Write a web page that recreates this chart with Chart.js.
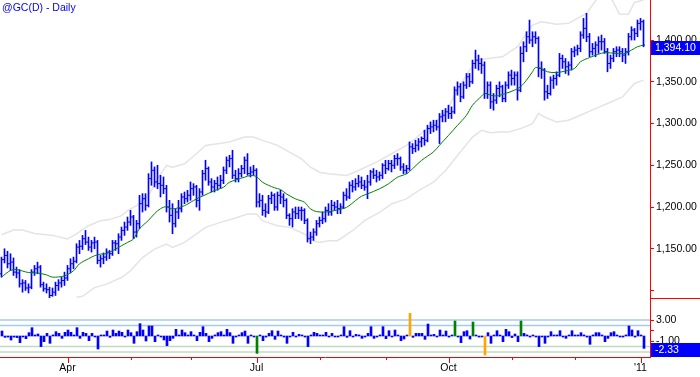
<!DOCTYPE html>
<html>
<head>
<meta charset="utf-8">
<script src="https://cdn.jsdelivr.net/npm/chart.js@4.4.1/dist/chart.umd.min.js"></script>
<style>
  html, body { margin: 0; padding: 0; background: #fff; }
  #caja { width: 700px; height: 377px; }
</style>
</head>
<body>
<div id="caja"><canvas id="grafico"></canvas></div>
<script>
// @GC(D) daily bars, 2 Mar 2010 .. 4 Jan 2011 (bar index 1..215)
const openP = [
  1120,1137,1142,1132,1134,1122,1121,1108,1109,1103,1104,1122,1126,1128,1107,1102,1101,1094,1098,1106,1109,1112,
  1115,1126,1132,1135,1152,1153,1162,1158,1152,1157,1158,1136,1138,1140,1146,1144,1157,1156,1164,1172,1176,
  1182,1188,1170,1180,1204,1210,1202,1234,1244,1230,1228,1226,1222,1200,1190,1180,1194,1198,1212,1210,
  1214,1222,1224,1208,1218,1240,1246,1230,1224,1228,1226,1232,1244,1256,1258,1238,1234,1240,1246,1256,1240,1242,
  1244,1206,1208,1196,1194,1210,1214,1200,1214,1212,1208,1190,1186,1194,1192,1196,1196,1184,1162,1164,1170,
  1180,1184,1186,1196,1194,1202,1200,1198,1200,1214,1212,1226,1224,1228,1230,1226,1224,1230,1242,1238,1236,1238,
  1250,1246,1252,1250,1258,1258,1248,1244,1246,1272,1270,1274,1278,1282,1280,1294,1296,1298,1296,1308,1310,
  1314,1312,1314,1340,1344,1332,1346,1356,1350,1372,1376,1372,1370,1336,1346,1326,1328,1342,1344,1330,1346,
  1358,1354,1358,1340,1384,1392,1404,1400,1404,1402,1366,1364,1338,1336,1352,1354,1358,1378,1374,1368,1370,
  1386,1388,1390,1406,1414,1404,1386,1390,1394,1398,1398,1386,1372,1378,1386,1388,1386,1382,1386,1404,1412,1408,
  1420,1422
]
const highP = [
  1140,1150,1147,1144,1139,1128,1125,1113,1112,1108,1125,1130,1134,1130,1110,1108,1104,1103,1110,1113,1116,1122,
  1130,1138,1140,1156,1160,1166,1172,1164,1160,1164,1160,1142,1145,1150,1148,1160,1160,1168,1176,1182,1188,
  1196,1190,1184,1214,1216,1216,1240,1254,1248,1250,1238,1236,1226,1208,1204,1198,1208,1216,1218,1220,
  1230,1228,1226,1222,1244,1256,1248,1234,1232,1236,1238,1248,1260,1262,1268,1244,1246,1250,1260,1264,1248,1250,
  1246,1216,1214,1204,1214,1218,1216,1218,1220,1216,1210,1192,1198,1200,1200,1200,1198,1186,1170,1174,1184,
  1188,1194,1200,1204,1208,1206,1208,1204,1218,1222,1230,1232,1234,1238,1236,1232,1238,1244,1246,1244,1242,1252,
  1256,1256,1256,1262,1264,1260,1252,1250,1278,1276,1280,1282,1284,1292,1298,1302,1304,1304,1312,1316,1318,
  1322,1320,1344,1350,1348,1350,1360,1360,1376,1388,1382,1378,1374,1350,1350,1336,1346,1350,1346,1350,1362,
  1364,1362,1362,1392,1398,1410,1424,1410,1410,1404,1374,1366,1346,1356,1358,1362,1384,1382,1378,1374,1390,
  1392,1394,1410,1426,1432,1408,1396,1398,1404,1406,1402,1390,1382,1390,1392,1392,1390,1390,1408,1416,1414,1424,
  1426,1424
]
const lowP = [
  1116,1133,1127,1124,1118,1115,1104,1098,1100,1097,1102,1118,1120,1104,1099,1097,1091,1093,1094,1100,1104,1106,
  1112,1121,1126,1133,1144,1149,1155,1148,1146,1150,1132,1128,1132,1136,1138,1142,1148,1144,1160,1166,1172,
  1178,1162,1164,1174,1194,1196,1200,1226,1224,1222,1212,1216,1194,1182,1168,1176,1186,1194,1204,1206,
  1208,1214,1200,1196,1214,1232,1226,1218,1218,1220,1222,1228,1240,1248,1234,1230,1230,1236,1240,1238,1236,1238,
  1200,1200,1190,1188,1192,1204,1196,1196,1204,1200,1186,1178,1176,1186,1186,1184,1180,1158,1156,1160,1166,
  1176,1180,1182,1190,1190,1196,1192,1192,1198,1208,1210,1218,1220,1224,1222,1220,1210,1226,1234,1230,1232,1234,
  1240,1244,1242,1246,1250,1244,1240,1240,1244,1264,1266,1268,1272,1274,1278,1288,1290,1292,1276,1302,1302,
  1306,1306,1312,1334,1326,1330,1342,1344,1348,1366,1364,1360,1330,1330,1318,1316,1324,1332,1326,1326,1342,
  1346,1346,1328,1338,1374,1386,1396,1392,1396,1356,1354,1328,1330,1334,1342,1346,1356,1366,1360,1358,1364,
  1380,1382,1386,1402,1398,1380,1382,1380,1384,1388,1384,1362,1366,1374,1380,1380,1374,1372,1382,1400,1400,1404,
  1412,1392
]
const closeP = [
  1137,1142,1132,1134,1122,1121,1108,1109,1103,1104,1122,1126,1128,1107,1102,1101,1094,1098,1106,1109,1112,1115,
  1126,1132,1135,1152,1153,1162,1158,1152,1157,1158,1136,1138,1140,1146,1144,1157,1156,1164,1172,1176,1182,
  1188,1170,1180,1204,1210,1202,1234,1244,1230,1228,1226,1222,1200,1190,1180,1194,1198,1212,1210,1214,
  1222,1224,1208,1218,1240,1246,1230,1224,1228,1226,1232,1244,1256,1258,1238,1234,1240,1246,1256,1240,1242,1244,
  1206,1208,1196,1194,1210,1214,1200,1214,1212,1208,1190,1186,1194,1192,1196,1196,1184,1162,1164,1170,1180,
  1184,1186,1196,1194,1202,1200,1198,1200,1214,1212,1226,1224,1228,1230,1226,1224,1230,1242,1238,1236,1238,1250,
  1246,1252,1250,1258,1258,1248,1244,1246,1272,1270,1274,1278,1282,1280,1294,1296,1298,1296,1308,1310,1314,
  1312,1314,1340,1344,1332,1346,1356,1350,1372,1376,1372,1370,1336,1346,1326,1328,1342,1344,1330,1346,1358,
  1354,1358,1340,1384,1392,1404,1400,1404,1402,1366,1364,1338,1336,1352,1354,1358,1378,1374,1368,1370,1386,
  1388,1390,1406,1414,1404,1386,1390,1394,1398,1398,1386,1372,1378,1386,1388,1386,1382,1386,1404,1412,1408,1420,
  1422,1394.1
]

// lower pane histogram, one value per bar
const osc = [
  0.94,-0.25,-0.2,-0.75,-0.2,-0.3,-1.26,-0.1,-0.5,0.63,1.57,0.2,0.38,-2.0,-1.07,0.5,-1.38,0.2,0.82,0.5,-0.44,0.69,
  1.13,0.69,0.1,1.57,-0.44,0.69,0.5,-0.88,0.5,-0.13,-2.45,0.1,0.1,0.94,-0.25,1.13,0.5,0.94,0.69,-0.13,1.13,
  0.63,-1.38,0.82,2.33,1.13,-0.94,1.89,1.89,-1.07,0.1,-0.1,-0.75,-1.82,-0.88,-0.44,1.26,0.1,1.13,0.63,0.1,
  0.82,0.1,-0.88,0.69,1.76,0.5,-1.07,-0.44,0.2,0.63,0.82,0.1,1.26,0.63,-1.38,-0.1,0.1,0.63,0.94,-1.38,0.1,-0.1,
  -3.27,0.1,-0.88,-0.2,0.5,1.0,-0.63,0.94,0.1,-0.2,-1.38,-0.1,0.69,-0.1,0.31,0.1,-0.2,-2.0,0.1,0.69,0.5,
  0.1,0.1,0.69,-0.13,0.5,-0.1,-0.1,0.1,1.76,-0.25,1.0,-0.1,0.31,0.2,-0.44,-0.1,0.5,1.76,-0.44,-0.1,0.2,1.76,
  -0.5,1.0,-0.1,1.13,0.1,-0.88,-0.57,0.1,4.28,-0.25,0.5,0.5,0.5,-0.63,2.26,0.1,0.31,-0.1,1.13,0.1,0.94,
  -0.2,0.1,2.83,-0.1,-1.26,0.82,1.0,-0.57,2.64,0.1,-0.2,-0.1,-3.58,0.63,-1.38,0.1,1.0,0.1,-1.07,1.26,0.82,
  -0.3,0.38,-1.07,2.83,0.5,0.2,-0.2,0.1,-0.1,-2.0,-0.1,-1.38,-0.1,0.82,0.1,0.2,1.0,-0.2,-0.44,0.1,1.0,
  0.1,0.1,0.63,0.2,-0.2,-1.57,0.2,0.63,0.63,0.1,-1.07,-0.44,0.63,0.82,0.1,-0.1,-0.2,0.2,1.89,1.13,-0.2,1.0,
  0.1,-2.33
]
const orangeIdx = [137, 162]
const greenIdx = [86, 152, 158, 174]

// average and envelope, read at these bar indices
const maIdx = [1,4,6,10,13,16,18,22,25,27,30,32,34,36,38,41,43,45,47,50,52,54,56,58,62,65,67,68,72,75,77,82,84,86,88,92,94,96,99,102,104,106,109,112,116,119,121,123,127,130,133,136,138,141,145,147,150,153,156,158,161,162,164,166,169,172,174,176,178,179,181,183,186,189,192,194,197,200,202,206,209,211,213,215]
const maVal = [1116,1124,1125,1121.5,1121,1118.7,1116,1117.5,1123.6,1132,1138,1141.6,1143.6,1144,1147.6,1153.6,1157.6,1161.7,1174,1184,1192,1198,1200.5,1197.7,1201.7,1207.7,1211.7,1213,1219.7,1223.7,1229.7,1235.7,1237.7,1236.5,1229.7,1223,1221,1215.7,1209.7,1205.7,1197.7,1194.5,1194,1195.7,1199.6,1207.7,1212.9,1215.7,1221.8,1227.8,1235.7,1239.8,1245.8,1255.8,1266,1274,1285.8,1297.8,1309.9,1322,1332.7,1336,1334,1333,1336,1340,1344,1352,1362,1367,1366,1362,1361,1363,1366,1374,1379,1383,1385,1384,1384,1388,1392,1394]
const upIdx = [1,5,8,12,16,18,23,26,30,34,37,41,43,46,50,53,56,58,62,66,69,73,77,82,85,88,93,97,101,104,107,110,116,120,126,131,136,139,142,147,150,153,157,160,163,168,173,178,181,186,190,193,196,200,204,207,210,212,215]
const upVal = [1166.8,1172.5,1172.5,1168.4,1166.8,1166,1161.7,1167.7,1177.6,1183.6,1184.9,1189.7,1195.7,1201.7,1213.7,1233.8,1249.8,1247.7,1251.8,1263.8,1273.8,1275.9,1277.8,1283.8,1283.8,1279.8,1273.8,1265.7,1257.8,1247.7,1241.7,1239.8,1237.7,1243.8,1253.7,1263.8,1273.8,1281.9,1291.8,1305.9,1319.8,1340,1364,1376,1378,1380,1392,1418,1422,1419,1420,1426,1432,1452,1452,1431,1431,1445,1448]
const loIdx = [26,28,32,36,41,44,48,52,56,58,62,66,69,74,78,83,86,88,93,97,102,105,107,110,113,118,122,127,131,136,140,145,149,153,158,161,164,167,170,174,178,180,182,186,190,194,199,203,208,212,215]
const loVal = [1092,1093,1103.5,1107.6,1115.5,1123.6,1139.5,1149.6,1155.6,1151.6,1157.6,1167.7,1175.6,1181.6,1185.7,1191.7,1191.7,1183.6,1177.6,1175.6,1167.7,1159.6,1157.6,1159.6,1159.6,1171.6,1183.6,1193.6,1203.7,1209.7,1219.7,1229.7,1243.8,1261.8,1283.8,1291.8,1289,1289.8,1290,1293.9,1299.9,1312,1307.8,1301.8,1303.9,1309.9,1317.9,1324,1331.9,1348,1352]

// axes
const priceTicks = [1100, 1150, 1200, 1250, 1300, 1350, 1400]
const oscTicks = [3, 1, -1]
const oscLevels = [3, 2, -2, -3]
const monthIdx = [23, 44, 64, 86, 107, 129, 150, 171, 192, 214]
const monthLab = ['Apr', '', '', 'Jul', '', '', 'Oct', '', '', "'11"]

// 3 px per bar on a 650 px wide plot, bar centres on half pixels
const xMin = 0.5, xMax = 0.5 + 650 / 3
const FONT = 'Liberation Sans'
const azul = '#0000ff'

const puntos = (idx, val) => idx.map((d, k) => ({ x: d, y: val[k] }))
const barras = highP.map((h, k) => ({ x: k + 1, y: [lowP[k], h] }))
const aperturas = openP.map((v, k) => ({ x: k + 1 - 1 / 3, y: v }))
const cierres = closeP.map((v, k) => ({ x: k + 1 + 1 / 3, y: v }))
const histo = osc.map((v, k) => ({ x: k + 1 + 1 / 6, y: v }))
const coloresHisto = osc.map((v, k) => {
  if (orangeIdx.includes(k + 1)) return '#ffa500'
  if (greenIdx.includes(k + 1)) return '#008000'
  return azul
})

const niveles = oscLevels.map((lv) => ({
  type: 'line',
  yAxisID: 'y2',
  data: [{ x: xMin, y: lv }, { x: xMax, y: lv }],
  borderColor: lv > 0 ? '#a6caf0' : '#c0dcc0',
  borderWidth: 1.5,
  pointRadius: 0,
  order: 6,
}))

const fmt = (v) => v.toLocaleString('en-US', { minimumFractionDigits: 2, maximumFractionDigits: 2 })
const sinRelleno = (axis) => {
  axis.paddingTop = 0
  axis.paddingBottom = 0
  axis.paddingLeft = 0
  axis.paddingRight = 0
}

const decorado = {
  id: 'decorado',
  afterDraw(chart) {
    const { ctx } = chart
    const x = chart.scales.x, y = chart.scales.y, y2 = chart.scales.y2
    ctx.save()
    ctx.strokeStyle = 'red'
    ctx.lineWidth = 1
    // month ticks under the axis
    monthIdx.forEach((m, k) => {
      const px = Math.round(x.getPixelForValue(m)) + 0.5
      ctx.beginPath()
      ctx.moveTo(px, x.top)
      ctx.lineTo(px, x.top + (monthLab[k] ? 6 : 3))
      ctx.stroke()
    })
    // pane divider in the axis column
    const yd = Math.round(y.bottom) + 0.5
    ctx.beginPath()
    ctx.moveTo(y.left, yd)
    ctx.lineTo(chart.width, yd)
    ctx.stroke()

    // last value boxes
    ctx.font = '10.5px "' + FONT + '"'
    ctx.textBaseline = 'middle'
    const caja = (scale, v, texto) => {
      let top = Math.round(scale.getPixelForValue(v)) - 4
      top = Math.min(top, Math.round(scale.bottom) - 14)
      ctx.fillStyle = azul
      ctx.fillRect(scale.left + 1, top, chart.width - scale.left - 1, 14)
      ctx.fillStyle = '#fff'
      ctx.fillText(texto, scale.left + 5, top + 7.5)
    }
    caja(y, closeP[closeP.length - 1], fmt(closeP[closeP.length - 1]))
    caja(y2, osc[osc.length - 1], fmt(osc[osc.length - 1]))

    // title
    ctx.fillStyle = azul
    ctx.textBaseline = 'top'
    ctx.fillText('@GC(D) - Daily', 2, 3)
    ctx.restore()
  },
}

new Chart(document.getElementById('grafico'), {
  type: 'bar',
  data: {
    datasets: [
      {
        type: 'line', data: puntos(upIdx, upVal), yAxisID: 'y',
        borderColor: '#e4e4e4', borderWidth: 1.5, pointRadius: 0, order: 6,
      },
      {
        type: 'line', data: puntos(loIdx, loVal), yAxisID: 'y',
        borderColor: '#e4e4e4', borderWidth: 1.5, pointRadius: 0, order: 6,
      },
      ...niveles,
      {
        type: 'bar', data: barras, yAxisID: 'y', backgroundColor: azul,
        barThickness: 1, grouped: false, order: 3,
      },
      {
        type: 'line', data: aperturas, yAxisID: 'y', showLine: false,
        pointStyle: 'line', pointRadius: 0.5, pointHoverRadius: 0.5, pointBorderWidth: 1,
        pointBorderColor: azul, order: 3,
      },
      {
        type: 'line', data: cierres, yAxisID: 'y', showLine: false,
        pointStyle: 'line', pointRadius: 0.5, pointHoverRadius: 0.5, pointBorderWidth: 1,
        pointBorderColor: azul, order: 3,
      },
      {
        type: 'line', data: puntos(maIdx, maVal), yAxisID: 'y',
        borderColor: '#008000', borderWidth: 1, pointRadius: 0, tension: 0.3, order: 1,
      },
      {
        type: 'bar', data: histo, yAxisID: 'y2', backgroundColor: coloresHisto,
        barThickness: 2, minBarLength: 1, grouped: false, order: 3,
      },
    ],
  },
  options: {
    responsive: true,
    maintainAspectRatio: false,
    animation: false,
    events: [],
    layout: { padding: 0, autoPadding: false },
    plugins: { legend: { display: false }, tooltip: { enabled: false } },
    scales: {
      x: {
        type: 'linear', position: 'bottom', min: xMin, max: xMax, offset: false,
        grid: { display: false, drawTicks: false },
        border: { color: 'red', width: 1 },
        afterBuildTicks: (axis) => { axis.ticks = monthIdx.map((v) => ({ value: v })) },
        afterFit: (axis) => { axis.height = 20; sinRelleno(axis) },
        ticks: {
          autoSkip: false, maxRotation: 0, padding: 5, color: '#000',
          font: { family: FONT, size: 10.5 },
          callback: (v) => monthLab[monthIdx.indexOf(v)] || '',
        },
      },
      y: {
        type: 'linear', position: 'right', stack: 'paneles', stackWeight: 298,
        min: 1091, max: 1448,
        grid: { drawOnChartArea: false, drawTicks: true, tickLength: 4, tickColor: 'red' },
        border: { color: 'red', width: 1 },
        afterBuildTicks: (axis) => { axis.ticks = priceTicks.map((v) => ({ value: v })) },
        afterFit: (axis) => { axis.width = 50; sinRelleno(axis) },
        ticks: {
          autoSkip: false, padding: 2, color: '#000',
          font: { family: FONT, size: 10.5 },
          callback: (v) => (v === 1100 ? '' : fmt(v)),
        },
      },
      y2: {
        type: 'linear', position: 'right', stack: 'paneles', stackWeight: 59,
        min: -3.96, max: 7.17, offset: false,
        grid: { drawOnChartArea: false, drawTicks: true, tickLength: 4, tickColor: 'red' },
        border: { color: 'red', width: 1 },
        afterBuildTicks: (axis) => { axis.ticks = oscTicks.map((v) => ({ value: v })) },
        afterFit: (axis) => { axis.width = 50; sinRelleno(axis) },
        ticks: {
          autoSkip: false, padding: 2, color: '#000',
          font: { family: FONT, size: 10.5 },
          callback: (v) => (v === 1 ? '' : fmt(v)),
        },
      },
    },
  },
  plugins: [decorado],
})
</script>
</body>
</html>
